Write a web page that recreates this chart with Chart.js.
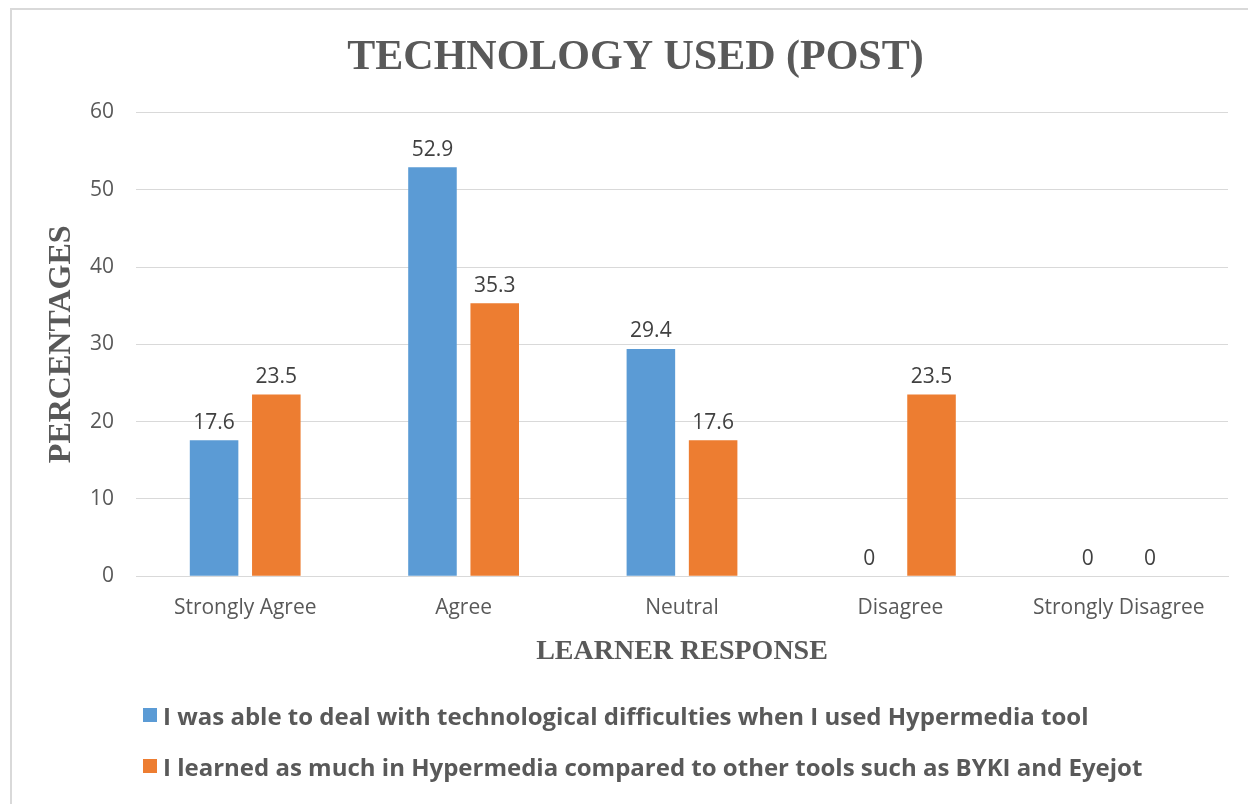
<!DOCTYPE html>
<html>
<head>
<meta charset="utf-8">
<script src="https://cdn.jsdelivr.net/npm/chart.js@4/dist/chart.umd.min.js"></script>
<style>
  body { margin: 0; background: #fff; }
  #wrap { position: relative; width: 1248px; height: 804px; overflow: hidden; }
  #frame { position: absolute; left: 10px; top: 8px; width: 1300px; height: 900px;
           border-top: 2px solid #d9d9d9; border-left: 2px solid #d9d9d9; pointer-events: none; }
  #legend { position: absolute; left: 143px; top: 700px; font-family: "Open Sans", sans-serif;
            font-weight: bold; font-size: 24px; color: #595959; }
  #legend div { height: 51px; line-height: 32px; display: flex; align-items: flex-start; white-space: nowrap; }
  #legend span.box { display: inline-block; width: 14px; height: 14px; margin-right: 6px; margin-top: 8px; }
</style>
</head>
<body>
<div id="wrap">
  <canvas id="chart" width="1248" height="804"></canvas>
  <div id="frame"></div>
  <div id="legend"></div>
</div>
<script>
// data
var categories = ['Strongly Agree', 'Agree', 'Neutral', 'Disagree', 'Strongly Disagree'];
var seriesNames = [
  'I was able to deal with technological difficulties when I used Hypermedia tool',
  'I learned as much in Hypermedia compared to other tools such as BYKI and Eyejot'
];
var dealtWithDifficulties = [17.6, 52.9, 29.4, 0, 0];
var learnedAsMuch = [23.5, 35.3, 17.6, 23.5, 0];
var yTicks = [0, 10, 20, 30, 40, 50, 60];
var colors = ['#5b9bd5', '#ed7d31'];

// value labels above bars
var barLabels = {
  id: 'barLabels',
  afterDatasetsDraw: function(chart) {
    var ctx = chart.ctx;
    ctx.save();
    ctx.font = '21px "Open Sans", sans-serif';
    ctx.fillStyle = '#404040';
    ctx.textAlign = 'center';
    ctx.textBaseline = 'bottom';
    chart.data.datasets.forEach(function(ds, i) {
      var meta = chart.getDatasetMeta(i);
      meta.data.forEach(function(bar, j) {
        ctx.fillText(String(ds.data[j]), bar.x, bar.y - 7);
      });
    });
    ctx.restore();
  }
};

var legendEl = document.getElementById('legend');
seriesNames.forEach(function(name, i) {
  var row = document.createElement('div');
  row.innerHTML = '<span class="box" style="background:' + colors[i] + '"></span>' + name;
  legendEl.appendChild(row);
});

new Chart(document.getElementById('chart'), {
  type: 'bar',
  data: {
    labels: categories,
    datasets: [
      { label: seriesNames[0], data: dealtWithDifficulties, backgroundColor: colors[0] },
      { label: seriesNames[1], data: learnedAsMuch, backgroundColor: colors[1] }
    ]
  },
  options: {
    responsive: false,
    animation: false,
    categoryPercentage: 0.57,
    barPercentage: 0.78,
    layout: { padding: { left: 43, right: 20, bottom: 135, top: 0 } },
    plugins: {
      legend: { display: false },
      tooltip: { enabled: false },
      title: {
        display: true,
        text: 'TECHNOLOGY USED (POST)',
        color: '#595959',
        font: { family: '"Liberation Serif", serif', size: 42, weight: 'bold' },
        padding: { top: 33, bottom: 29 }
      }
    },
    scales: {
      x: {
        grid: { display: false },
        border: { color: '#d9d9d9' },
        ticks: { color: '#595959', font: { family: '"Open Sans", sans-serif', size: 21 }, padding: 11 },
        title: {
          display: true,
          text: 'LEARNER RESPONSE',
          color: '#595959',
          font: { family: '"Liberation Serif", serif', size: 28, weight: 'bold' },
          padding: { top: 4, bottom: 0 }
        }
      },
      y: {
        min: 0,
        max: 60,
        afterBuildTicks: function(axis) {
          axis.ticks = yTicks.map(function(v) { return { value: v }; });
        },
        afterFit: function(axis) { axis.width = 93; },
        grid: { color: '#d9d9d9', drawTicks: false },
        border: { display: false },
        ticks: { color: '#595959', font: { family: '"Open Sans", sans-serif', size: 21 }, padding: 22 },
        title: {
          display: true,
          text: 'PERCENTAGES',
          color: '#595959',
          font: { family: '"Liberation Serif", serif', size: 32, weight: 'bold' },
          padding: { top: 0, bottom: 4 }
        }
      }
    }
  },
  plugins: [barLabels]
});
</script>
</body>
</html>
